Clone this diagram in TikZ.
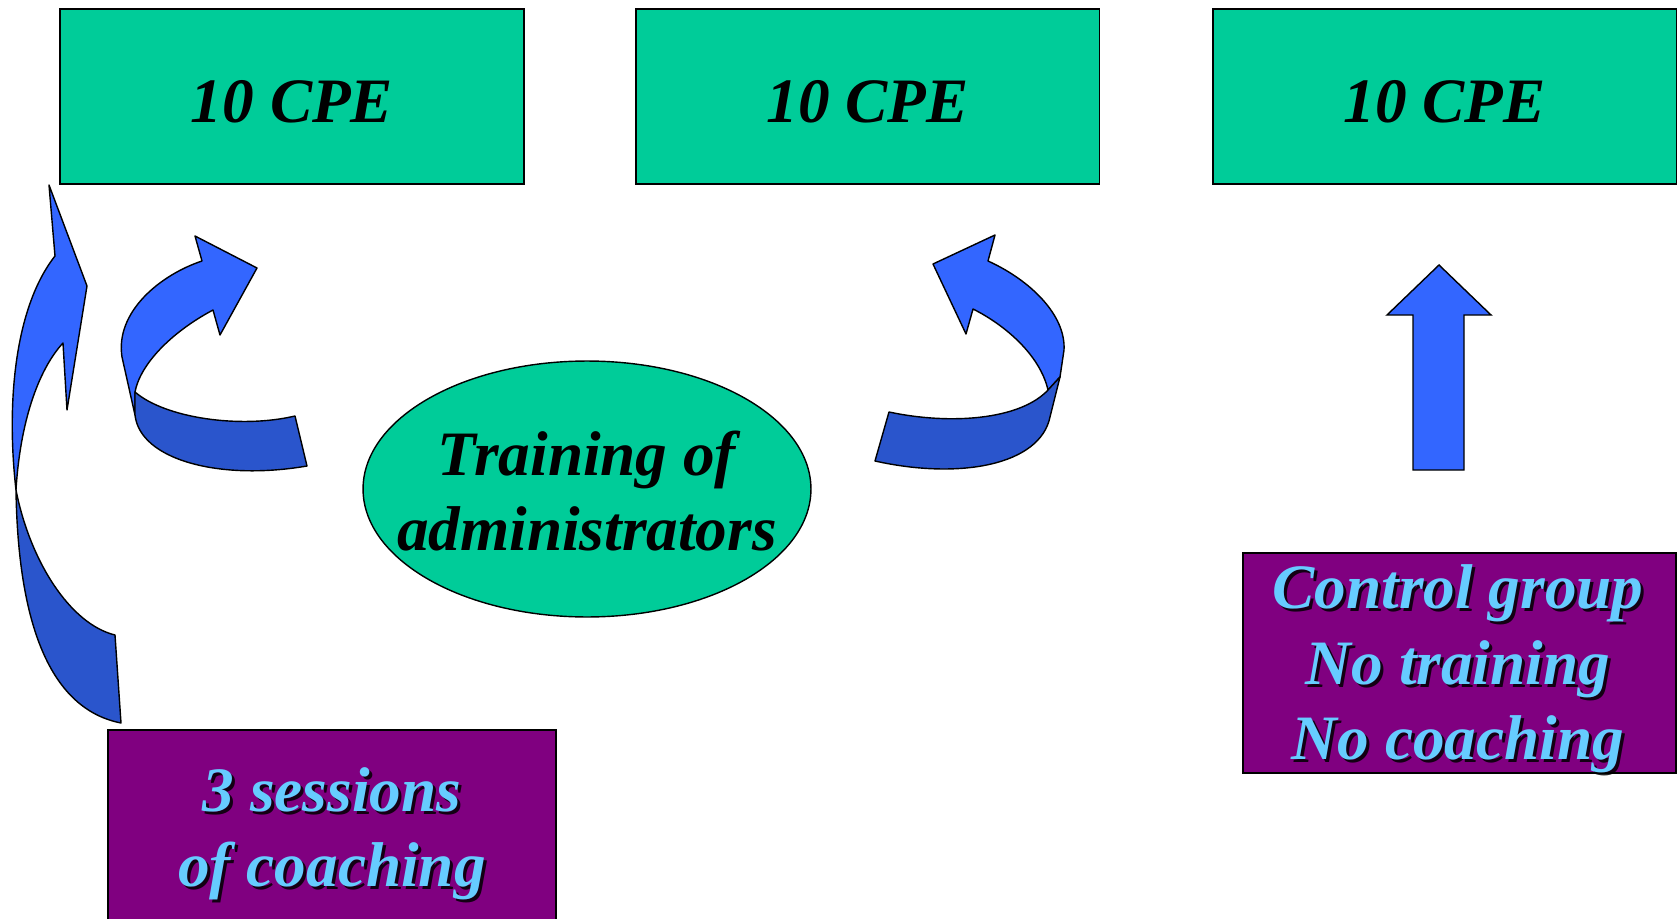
\documentclass[tikz,border=0pt]{standalone}
\usepackage{fontspec}
\setmainfont{Liberation Serif}
\usetikzlibrary{shapes.geometric}

\definecolor{cpegreen}{RGB}{0,204,153}
\definecolor{boxpurple}{RGB}{128,0,128}
\definecolor{skytext}{RGB}{102,204,255}
\definecolor{arrowlight}{RGB}{51,102,255}
\definecolor{arrowdark}{RGB}{42,85,204}

\tikzset{
  bigfont/.style={font=\fontsize{36}{43}\selectfont\bfseries\itshape},
  cpebox/.style={draw, line width=1.1pt, fill=cpegreen, bigfont,
    text height=1.06cm, text depth=0pt,
    minimum width=9.28cm, minimum height=3.5cm},
  trainoval/.style={draw, line width=0.8pt, ellipse, fill=cpegreen,
    inner sep=0pt, minimum width=8.96cm, minimum height=5.12cm},
  groupbox/.style={draw, line width=1.1pt, fill=boxpurple},
  grouptext/.style={bigfont, align=center, text=skytext},
  groupshade/.style={bigfont, align=center, text=black, opacity=0.85},
  ribbonlight/.style={draw, line width=0.8pt, line join=round, fill=arrowlight},
  ribbondark/.style={draw, line width=0.8pt, line join=round, fill=arrowdark}
}

\begin{document}
\begin{tikzpicture}[x=0.02cm, y=-0.02cm]
\useasboundingbox (0,0) rectangle (1680,919);
\clip (0,0) rectangle (1680,919);
% draws the CPE boxes
\node[cpebox] (cpeA) at (292,96.5) {10 CPE};
\node[cpebox] (cpeB) at (867.5,96.5) {10 CPE};
\node[cpebox] (cpeC) at (1444.5,96.5) {10 CPE};
% draws the training ellipse
\node[trainoval] (train) at (587,489) {};
\node[bigfont, align=center] (trainlabel) at (587,491) {Training of\\administrators};
% draws the purple boxes
\node[groupbox, minimum width=8.96cm, minimum height=4.16cm] (coach) at (332,834) {};
\node[groupshade] (coachshade) at (335,837) {3 sessions\\of coaching};
\node[grouptext] (coachtext) at (332,834) {3 sessions\\of coaching};
\node[groupbox, minimum width=8.66cm, minimum height=4.4cm] (control) at (1459.5,663) {};
\node[groupshade] (controlshade) at (1461,672) {Control group\\No training\\No coaching};
\node[grouptext] (controltext) at (1458,669) {Control group\\No training\\No coaching};
% draws the tall arrow from the coaching box
\draw[ribbondark] (16,490) .. controls (30,561) and (70,624) .. (115,635)
  -- (121,723) .. controls (50,709) and (18,624) .. (16,490) -- cycle;
\draw[ribbonlight] (55,256) -- (49,185) -- (87,286) -- (67,410) -- (63,343)
  .. controls (38,370) and (20,423) .. (16,490)
  .. controls (6,402) and (15,307) .. (55,256) -- cycle;
% draws the curved arrow to the first box
\draw[ribbonlight] (202,261) -- (195,236) -- (257,268) -- (220,335) -- (213,310)
  .. controls (170,333) and (140,365) .. (135,392) -- (135,415) -- (122,357)
  .. controls (115,312) and (160,275) .. (202,261) -- cycle;
\draw[ribbondark] (135,392) .. controls (165,418) and (240,429) .. (295,416)
  -- (307,466) .. controls (220,481) and (140,460) .. (135,415) -- cycle;
% draws the curved arrow to the second box
\draw[ribbonlight] (988,261) -- (995,235) -- (933,264) -- (966,334) -- (973,309)
  .. controls (1005,325) and (1040,355) .. (1048,390) -- (1060,377) -- (1064,350)
  .. controls (1066,315) and (1030,280) .. (988,261) -- cycle;
\draw[ribbondark] (1048,390) .. controls (1020,420) and (950,425) .. (889,412)
  -- (875,461) .. controls (960,480) and (1040,465) .. (1050,417)
  -- (1060,377) -- cycle;
% draws the straight arrow to the third box
\draw[ribbonlight, line join=miter] (1439,265) -- (1491,315) -- (1464,315) -- (1464,470)
  -- (1413,470) -- (1413,315) -- (1387,315) -- cycle;
\end{tikzpicture}
\end{document}
